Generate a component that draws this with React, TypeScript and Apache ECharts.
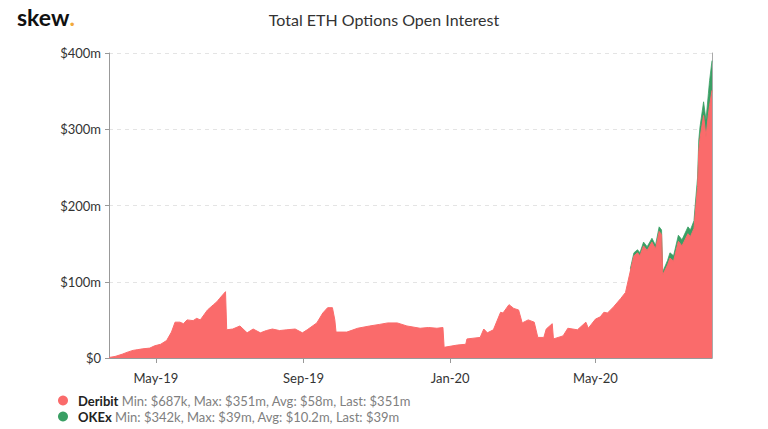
import React, { useEffect, useRef } from "react";
import * as echarts from "echarts";

const dates = [
  "2019-03-23","2019-03-28","2019-04-03","2019-04-08","2019-04-12","2019-04-16","2019-04-20","2019-04-26","2019-04-30",
  "2019-05-05","2019-05-10","2019-05-14","2019-05-17","2019-05-21","2019-05-24","2019-05-27","2019-06-01","2019-06-04",
  "2019-06-07","2019-06-13","2019-06-18","2019-06-21","2019-06-23","2019-06-28","2019-06-29","2019-07-04","2019-07-10",
  "2019-07-16","2019-07-21","2019-07-27","2019-08-01","2019-08-06","2019-08-12","2019-08-18","2019-08-25","2019-08-31",
  "2019-09-04","2019-09-12","2019-09-17","2019-09-21","2019-09-25","2019-09-27","2019-09-28","2019-10-07","2019-10-16",
  "2019-10-26","2019-11-03","2019-11-10","2019-11-18","2019-11-26","2019-12-07","2019-12-14","2019-12-21","2019-12-26",
  "2019-12-27","2020-01-07","2020-01-14","2020-01-15","2020-01-26","2020-01-29","2020-02-01","2020-02-06","2020-02-12",
  "2020-02-14","2020-02-19","2020-02-23","2020-02-27","2020-03-01","2020-03-06","2020-03-11","2020-03-14","2020-03-19",
  "2020-03-21","2020-03-26","2020-03-27","2020-04-04","2020-04-08","2020-04-16","2020-04-23","2020-04-25","2020-05-01",
  "2020-05-05","2020-05-08","2020-05-11","2020-05-16","2020-05-22","2020-05-26","2020-05-30","2020-06-02","2020-06-05",
  "2020-06-07","2020-06-10","2020-06-13","2020-06-17","2020-06-20","2020-06-23","2020-06-25","2020-06-26","2020-06-30",
  "2020-07-02","2020-07-05","2020-07-09","2020-07-12","2020-07-17","2020-07-19","2020-07-22","2020-07-23","2020-07-25",
  "2020-07-26","2020-07-27","2020-07-30","2020-08-01","2020-08-03","2020-08-04","2020-08-06"
];

// $m
const deribit = [
  0.7, 2, 5, 8, 10, 11, 12, 13, 16,
  18, 23, 34, 47, 47, 45, 50, 49, 52,
  50, 63, 70, 74, 78, 87, 37, 38, 42,
  33, 38, 33, 36, 38, 36, 37, 38, 33,
  37, 46, 59, 66, 66, 50, 34, 34, 39,
  42, 44, 46, 46, 42, 39, 40, 39, 40,
  14, 17, 18, 25, 27, 38, 33, 37, 60,
  59, 70, 65, 63, 46, 50, 47, 27, 27,
  38, 45, 25, 29, 39, 37, 47, 39, 51,
  54, 60, 59, 67, 78, 86, 114, 134, 138,
  134, 147, 141, 152, 143, 166, 162, 109, 122,
  131, 127, 153, 147, 163, 159, 170, 189, 225,
  272, 288, 318, 290, 319, 331, 351
];

// $m (not visible before late May 2020)
const okex = [
  null, null, null, null, null, null, null, null, null,
  null, null, null, null, null, null, null, null, null,
  null, null, null, null, null, null, null, null, null,
  null, null, null, null, null, null, null, null, null,
  null, null, null, null, null, null, null, null, null,
  null, null, null, null, null, null, null, null, null,
  null, null, null, null, null, null, null, null, null,
  null, null, null, null, null, null, null, null, null,
  null, null, null, null, null, null, null, null, null,
  null, null, null, null, null, null, 3, 4, 4,
  4, 5, 5, 5, 5, 6, 6, 4, 6,
  7, 7, 8, 8, 9, 9, 10, 11, 12,
  14, 15, 18, 22, 28, 33, 39
];

const seriesNames = ["Deribit", "OKEx"];
const seriesStats = [
  "Min: $687k, Max: $351m, Avg: $58m, Last: $351m",
  "Min: $342k, Max: $39m, Avg: $10.2m, Last: $39m"
];
const xTicks = ["2019-05-01", "2019-09-01", "2020-01-01", "2020-05-01"];
const xRange = ["2019-03-23", "2020-08-06"];
const yTicks = [0, 100, 200, 300, 400];
const MONTHS = ["Jan","Feb","Mar","Apr","May","Jun","Jul","Aug","Sep","Oct","Nov","Dec"];

const RED = "#FA6B6B";
const GREEN = "#3A9F64";
const FONT = "Lato";

const ts = (s: string) => Date.parse(s + "T00:00:00Z");

export default function App() {
  const ref = useRef<HTMLDivElement>(null);
  useEffect(() => {
    document.body.style.margin = "0";
    const chart = echarts.init(ref.current!, null, { renderer: "svg" });
    const xTickValues = xTicks.map(ts);
    // OKEx is stacked on top of Deribit
    const okexStacked = dates.map((d, i) => [ts(d), okex[i] == null ? null : (okex[i] as number) + deribit[i]]);
    const legendRich = {
      n: { fontFamily: FONT, fontSize: 13, fontWeight: "bold", color: "#222222", lineHeight: 15 },
      s: { fontFamily: FONT, fontSize: 13, color: "#808080", lineHeight: 15 }
    };
    const makeLegend = (i: number, top: number) => ({
      orient: "horizontal",
      left: 53,
      top,
      itemWidth: 20,
      itemHeight: 10,
      icon: "circle",
      data: [seriesNames[i]],
      formatter: (name: string) => `{n|${name}} {s|${seriesStats[i]}}`,
      textStyle: { fontFamily: FONT, fontSize: 13, lineHeight: 15, rich: legendRich }
    });
    chart.setOption({
      animation: false,
      backgroundColor: "#ffffff",
      title: {
        text: "Total ETH Options Open Interest",
        left: "center",
        top: 6,
        textStyle: { fontFamily: FONT, fontSize: 16, fontWeight: "normal", color: "#333333" }
      },
      graphic: [
        {
          type: "text",
          left: 17,
          top: 5,
          style: {
            text: "{a|skew}{b|.}",
            rich: {
              a: { fontFamily: FONT, fontSize: 23, fontWeight: "bold", fill: "#111111" },
              b: { fontFamily: FONT, fontSize: 23, fontWeight: "bold", fill: "#F2A93B" }
            }
          }
        }
      ],
      legend: [makeLegend(0, 388), makeLegend(1, 404)],
      grid: { left: 109, right: 56, top: 53, bottom: 71 },
      xAxis: {
        type: "value",
        min: ts(xRange[0]),
        max: ts(xRange[1]),
        axisLine: { show: true, onZero: false, lineStyle: { color: "#999999", width: 1 } },
        axisTick: { show: true, length: 5, lineStyle: { color: "#999999" }, customValues: xTickValues },
        axisLabel: {
          customValues: xTickValues,
          margin: 13,
          fontFamily: FONT,
          fontSize: 13,
          color: "#333333",
          formatter: (v: number) => {
            const d = new Date(v);
            return MONTHS[d.getUTCMonth()] + "-" + String(d.getUTCFullYear()).slice(2);
          }
        },
        splitLine: { show: false }
      },
      yAxis: [
        {
          type: "value",
          min: 0,
          max: 400,
          interval: 100,
          axisLine: { show: true, lineStyle: { color: "#999999" } },
          axisTick: { show: true, length: 4, lineStyle: { color: "#999999" } },
          axisLabel: {
            margin: 8,
            fontFamily: FONT,
            fontSize: 13,
            color: "#333333",
            formatter: (v: number) => (v === 0 ? "$0" : "$" + v + "m"),
            customValues: yTicks
          },
          splitLine: { show: true, lineStyle: { color: "#e4e4e4", type: [4, 4] } }
        },
        {
          type: "value",
          min: 0,
          max: 400,
          interval: 100,
          position: "right",
          axisLine: { show: true, lineStyle: { color: "#aaaaaa" } },
          axisTick: { show: false },
          axisLabel: { show: false },
          splitLine: { show: false }
        }
      ],
      series: [
        {
          name: "OKEx",
          type: "line",
          showSymbol: false,
          symbol: "none",
          color: GREEN,
          lineStyle: { width: 0.8, color: GREEN },
          areaStyle: { color: GREEN, opacity: 1 },
          data: okexStacked
        },
        {
          name: "Deribit",
          type: "line",
          showSymbol: false,
          symbol: "none",
          color: RED,
          lineStyle: { width: 1, color: RED },
          areaStyle: { color: RED, opacity: 1 },
          data: dates.map((d, i) => [ts(d), deribit[i]])
        }
      ]
    });
    return () => chart.dispose();
  }, []);
  return <div ref={ref} style={{ width: 768, height: 429 }} />;
}
